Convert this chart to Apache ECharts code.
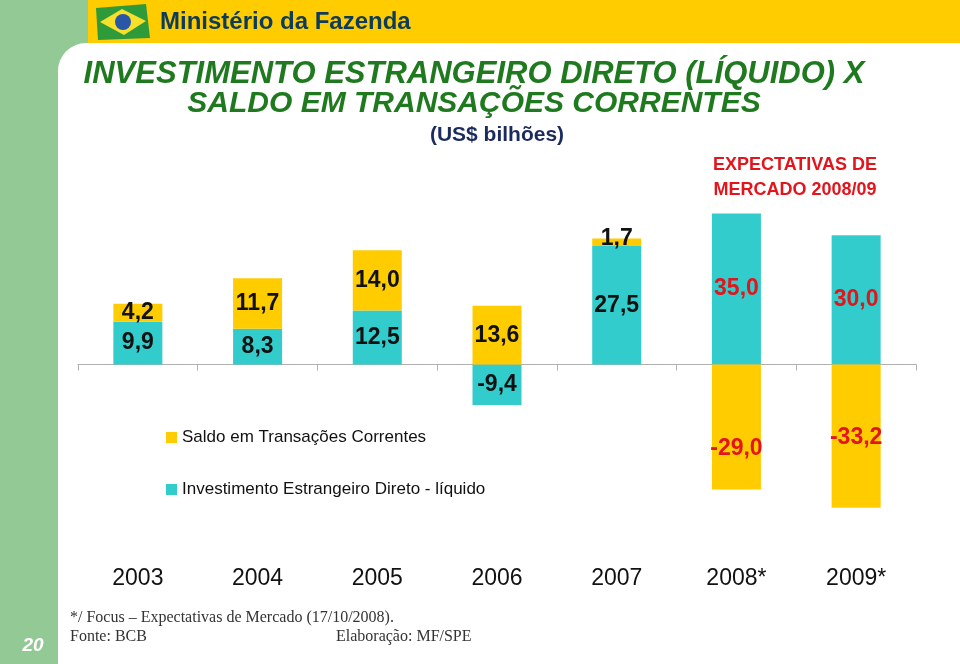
<!DOCTYPE html>
<html>
<head>
<meta charset="utf-8">
<script src="https://cdn.jsdelivr.net/npm/echarts@6/dist/echarts.min.js"></script>
<style>
html,body{margin:0;padding:0;background:#fff;}
#chart{width:960px;height:664px;}
</style>
</head>
<body>
<div id="chart"></div>
<script>
// ---- data ----
const categories = ['2003', '2004', '2005', '2006', '2007', '2008*', '2009*'];
const iedValues = [9.9, 8.3, 12.5, -9.4, 27.5, 35.0, 30.0];      // Investimento Estrangeiro Direto - líquido
const saldoValues = [4.2, 11.7, 14.0, 13.6, 1.7, -29.0, -33.2];  // Saldo em Transações Correntes
const isExpectation = [false, false, false, false, false, true, true];
const seriesNames = ['Investimento Estrangeiro Direto - líquido', 'Saldo em Transações Correntes'];

const SANS = '"Liberation Sans", Arial, sans-serif';
const YELLOW = '#ffcc00';
const TEAL = '#33cccc';

function fmt(v) { return v.toFixed(1).replace('.', ','); }
function buildData(values, labelShift) {
  return values.map((v, i) => ({
    value: v,
    label: { color: isExpectation[i] ? '#e3141b' : '#111', offset: [0, (labelShift && labelShift[i]) || 0] }
  }));
}

const chart = echarts.init(document.getElementById('chart'), null, { renderer: 'canvas' });

const option = {
  animation: false,
  backgroundColor: '#ffffff',
  graphic: [
    // page decoration
    { type: 'rect', shape: { x: 0, y: 0, width: 960, height: 664 }, style: { fill: '#93c994' }, z: -10 },
    { type: 'rect', shape: { x: 58, y: 43, width: 902, height: 621, r: [28, 0, 0, 0] }, style: { fill: '#ffffff' }, z: -9 },
    { type: 'rect', shape: { x: 88, y: 0, width: 872, height: 43 }, style: { fill: '#ffcc00' }, z: -8 },
    // flag
    { type: 'polygon', shape: { points: [[96, 8], [146, 4], [150, 38], [98, 40]] }, style: { fill: '#2f9a3a' }, z: -7 },
    { type: 'polygon', shape: { points: [[100, 22], [122, 9], [146, 21], [124, 35]] }, style: { fill: '#f6e02a' }, z: -6 },
    { type: 'circle', shape: { cx: 123, cy: 22, r: 8 }, style: { fill: '#2a56a8' }, z: -5 },
    { type: 'text', x: 160, y: 22, style: { text: 'Ministério da Fazenda', font: 'bold 24px ' + SANS, fill: '#0c3b5c', textVerticalAlign: 'middle' } },
    // titles
    { type: 'text', x: 474, y: 74, style: { text: 'INVESTIMENTO ESTRANGEIRO DIRETO (LÍQUIDO) X', font: 'italic bold 31px ' + SANS, fill: '#1f7a1f', textAlign: 'center', textVerticalAlign: 'middle' } },
    { type: 'text', x: 474, y: 104, style: { text: 'SALDO EM TRANSAÇÕES CORRENTES', font: 'italic bold 30px ' + SANS, fill: '#1f7a1f', textAlign: 'center', textVerticalAlign: 'middle' } },
    { type: 'text', x: 497, y: 135, style: { text: '(US$ bilhões)', font: 'bold 21px ' + SANS, fill: '#1c2b5e', textAlign: 'center', textVerticalAlign: 'middle' } },
    { type: 'text', x: 795, y: 165, style: { text: 'EXPECTATIVAS DE', font: 'bold 18px ' + SANS, fill: '#e3141b', textAlign: 'center', textVerticalAlign: 'middle' } },
    { type: 'text', x: 795, y: 190, style: { text: 'MERCADO 2008/09', font: 'bold 18px ' + SANS, fill: '#e3141b', textAlign: 'center', textVerticalAlign: 'middle' } },
    // footnotes
    { type: 'text', x: 70, y: 618, style: { text: '*/ Focus – Expectativas de Mercado (17/10/2008).', font: '16px "Liberation Serif", "DejaVu Serif", serif', fill: '#333', textVerticalAlign: 'middle' } },
    { type: 'text', x: 70, y: 637, style: { text: 'Fonte: BCB', font: '16px "Liberation Serif", "DejaVu Serif", serif', fill: '#333', textVerticalAlign: 'middle' } },
    { type: 'text', x: 336, y: 637, style: { text: 'Elaboração: MF/SPE', font: '16px "Liberation Serif", "DejaVu Serif", serif', fill: '#333', textVerticalAlign: 'middle' } },
    { type: 'text', x: 33, y: 646, style: { text: '20', font: 'italic bold 19px ' + SANS, fill: '#ffffff', textAlign: 'center', textVerticalAlign: 'middle' } }
  ],
  legend: {
    orient: 'vertical',
    left: 166,
    top: 429,
    padding: 0,
    itemGap: 35,
    itemWidth: 11,
    itemHeight: 11,
    icon: 'rect',
    data: [seriesNames[1], seriesNames[0]],
    textStyle: { fontFamily: SANS, fontSize: 17, color: '#111', lineHeight: 17 }
  },
  grid: { left: 78, right: 44, top: 192, bottom: 127, containLabel: false },
  xAxis: [
    {
      type: 'category',
      data: categories,
      axisLine: { show: true, onZero: true, lineStyle: { color: '#b0b0b0', width: 1 } },
      axisTick: { show: true, length: 6, lineStyle: { color: '#b0b0b0' } },
      axisLabel: { show: false },
      splitLine: { show: false }
    },
    {
      type: 'category',
      data: categories,
      position: 'bottom',
      axisLine: { show: false, onZero: false },
      axisTick: { show: false },
      axisLabel: { show: true, margin: 30, fontFamily: SANS, fontSize: 23, color: '#111' },
      splitLine: { show: false }
    }
  ],
  yAxis: {
    type: 'value',
    min: -40,
    max: 40,
    show: false,
    splitLine: { show: false }
  },
  series: [
    {
      name: seriesNames[0],
      type: 'bar',
      stack: 'total',
      xAxisIndex: 0,
      barWidth: 49,
      itemStyle: { color: TEAL },
      label: { show: true, position: 'inside', fontFamily: SANS, fontWeight: 'bold', fontSize: 23, formatter: p => fmt(p.value) },
      data: buildData(iedValues)
    },
    {
      name: seriesNames[1],
      type: 'bar',
      stack: 'total',
      xAxisIndex: 0,
      barWidth: 49,
      itemStyle: { color: YELLOW },
      label: { show: true, position: 'inside', fontFamily: SANS, fontWeight: 'bold', fontSize: 23, formatter: p => fmt(p.value) },
      data: buildData(saldoValues, [0, 0, 0, 0, -4, 22, 2])
    }
  ]
};

chart.setOption(option);
</script>
</body>
</html>
